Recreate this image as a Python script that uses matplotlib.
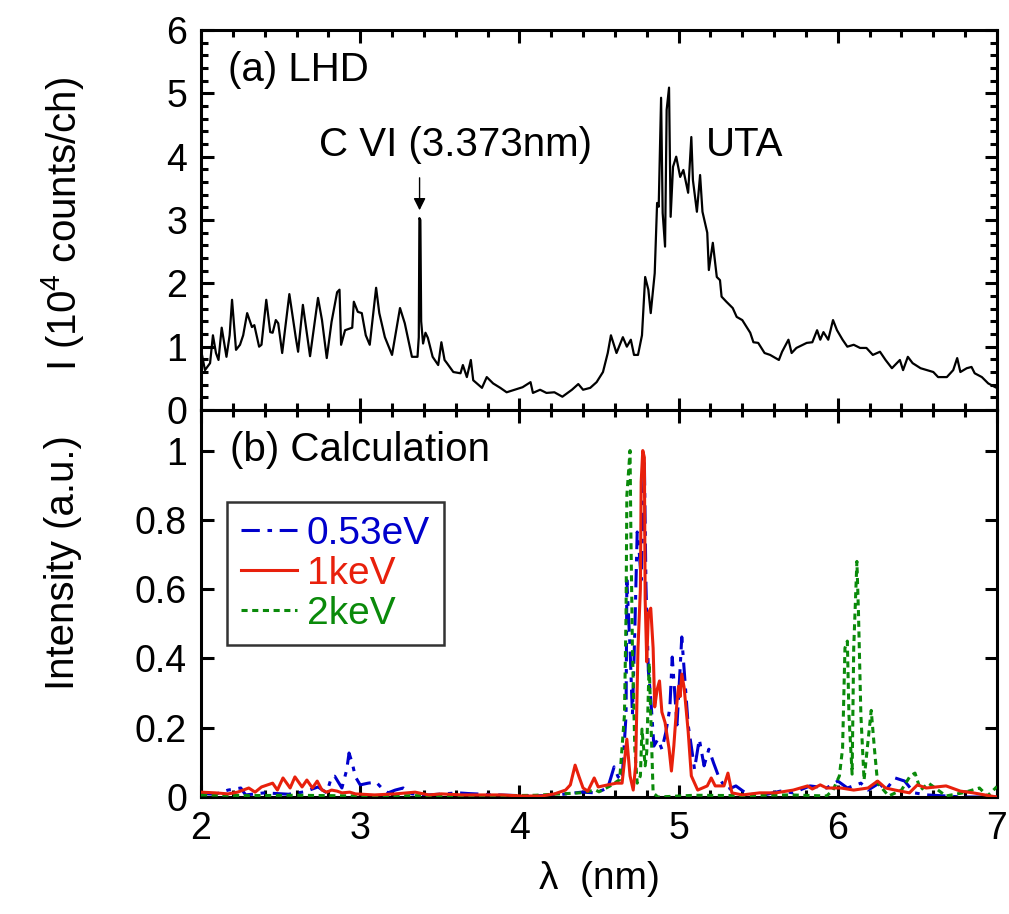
import matplotlib
matplotlib.use('Agg')
import matplotlib.pyplot as plt
from matplotlib.lines import Line2D
from matplotlib.ticker import MultipleLocator, FixedLocator, FixedFormatter

plt.rcParams['font.family'] = ['Liberation Sans', 'DejaVu Sans']
plt.rcParams['mathtext.default'] = 'regular'

# (a) LHD measured spectrum (10^4 counts/ch)
lhd_wl = [2.00, 2.025, 2.057, 2.075, 2.094, 2.11, 2.13, 2.16, 2.18, 2.195, 2.22, 2.245,
          2.265, 2.29, 2.32, 2.335, 2.365, 2.38, 2.41, 2.435, 2.45, 2.47, 2.485, 2.51,
          2.555, 2.595, 2.61, 2.64, 2.685, 2.735, 2.76, 2.79, 2.82, 2.855, 2.87, 2.88,
          2.905, 2.95, 2.96, 2.985, 3.01, 3.035, 3.06, 3.10, 3.12, 3.155, 3.20, 3.25,
          3.28, 3.325, 3.36, 3.368, 3.372, 3.378, 3.383, 3.395, 3.41, 3.425, 3.455, 3.49,
          3.51, 3.53, 3.545, 3.585, 3.63, 3.645, 3.67, 3.695, 3.71, 3.765, 3.795, 3.835,
          3.88, 3.92, 3.97, 4.02, 4.07, 4.085, 4.13, 4.17, 4.22, 4.27, 4.33, 4.37,
          4.40, 4.445, 4.485, 4.525, 4.555, 4.575, 4.61, 4.65, 4.675, 4.70, 4.72, 4.745,
          4.77, 4.79, 4.81, 4.825, 4.85, 4.865, 4.875, 4.89, 4.90, 4.915, 4.925, 4.94,
          4.95, 4.965, 4.985, 5.01, 5.03, 5.06, 5.08, 5.09, 5.115, 5.135, 5.15, 5.18,
          5.19, 5.215, 5.24, 5.26, 5.27, 5.30, 5.34, 5.365, 5.40, 5.45, 5.47, 5.50,
          5.54, 5.575, 5.63, 5.65, 5.69, 5.71, 5.74, 5.805, 5.84, 5.87, 5.89, 5.91,
          5.94, 5.97, 5.995, 6.03, 6.06, 6.10, 6.14, 6.18, 6.22, 6.265, 6.30, 6.34,
          6.39, 6.41, 6.44, 6.47, 6.52, 6.56, 6.60, 6.63, 6.685, 6.725, 6.75, 6.77,
          6.81, 6.84, 6.86, 6.905, 6.945, 6.99]
lhd_counts = [0.95, 0.63, 0.74, 1.18, 0.90, 0.79, 1.30, 0.84, 1.18, 1.74, 0.95, 1.03,
              1.18, 1.53, 1.31, 1.34, 1.00, 1.03, 1.74, 1.23, 1.22, 1.42, 1.37, 0.90,
              1.83, 1.15, 0.92, 1.66, 0.85, 1.77, 1.42, 0.82, 1.39, 1.86, 1.90, 1.03,
              1.26, 1.30, 1.71, 1.55, 1.53, 1.18, 1.03, 1.93, 1.53, 1.15, 0.87, 1.61,
              1.37, 0.84, 0.84, 1.15, 3.03, 3.00, 1.40, 1.05, 1.22, 1.14, 0.84, 0.71,
              1.07, 0.79, 0.74, 0.60, 0.58, 0.71, 0.52, 0.79, 0.47, 0.35, 0.52, 0.42,
              0.35, 0.28, 0.32, 0.36, 0.44, 0.27, 0.32, 0.27, 0.28, 0.21, 0.32, 0.41,
              0.32, 0.35, 0.44, 0.60, 0.90, 1.18, 0.90, 1.15, 1.00, 1.11, 0.87, 0.87,
              1.18, 2.10, 1.90, 1.53, 2.16, 3.27, 3.21, 4.93, 3.11, 2.58, 4.74, 5.09,
              3.05, 3.84, 4.00, 3.68, 3.79, 3.43, 4.31, 3.63, 3.13, 3.71, 3.13, 2.80,
              2.21, 2.64, 2.10, 2.05, 1.79, 1.71, 1.61, 1.47, 1.42, 1.22, 1.07, 1.06,
              0.90, 0.87, 0.79, 0.92, 1.11, 0.90, 0.98, 1.06, 1.07, 1.26, 1.11, 1.23,
              1.11, 1.42, 1.26, 1.11, 1.00, 1.03, 0.98, 0.98, 0.87, 0.92, 0.79, 0.66,
              0.79, 0.63, 0.84, 0.74, 0.66, 0.63, 0.60, 0.52, 0.52, 0.63, 0.82, 0.60,
              0.66, 0.68, 0.58, 0.52, 0.42, 0.36]

# (b) calculation, Te = 0.53 eV
calc053_wl = [2.00, 2.09, 2.17, 2.25, 2.28, 2.40, 2.55, 2.65, 2.735, 2.79, 2.82, 2.84,
              2.885, 2.915, 2.93, 2.95, 2.97, 3.00, 3.05, 3.10, 3.135, 3.175, 3.22, 3.27,
              3.325, 3.43, 3.615, 3.68, 3.86, 4.00, 4.20, 4.39, 4.48, 4.555, 4.595, 4.62,
              4.645, 4.67, 4.675, 4.695, 4.71, 4.725, 4.74, 4.75, 4.765, 4.785, 4.795, 4.81,
              4.825, 4.845, 4.87, 4.895, 4.92, 4.945, 4.96, 4.975, 4.99, 5.01, 5.02, 5.04,
              5.06, 5.085, 5.10, 5.13, 5.16, 5.19, 5.22, 5.25, 5.30, 5.36, 5.42, 5.51,
              5.64, 5.72, 5.825, 5.93, 6.00, 6.06, 6.145, 6.19, 6.26, 6.30, 6.36, 6.42,
              6.48, 6.56, 6.68, 6.78, 7.00]
calc053_int = [0.010, 0.008, 0.020, 0.026, 0.006, 0.012, 0.008, 0.015, 0.029, 0.012, 0.058, 0.060,
               0.026, 0.078, 0.127, 0.098, 0.058, 0.035, 0.040, 0.043, 0.026, 0.012, 0.020, 0.026,
               0.009, 0.006, 0.012, 0.010, 0.006, 0.004, 0.004, 0.014, 0.012, 0.026, 0.087, 0.058,
               0.049, 0.237, 0.626, 0.430, 0.237, 0.480, 0.765, 0.725, 0.626, 0.970, 0.610, 0.365,
               0.285, 0.147, 0.167, 0.138, 0.187, 0.257, 0.404, 0.306, 0.208, 0.375, 0.462, 0.335,
               0.208, 0.130, 0.080, 0.167, 0.090, 0.138, 0.098, 0.061, 0.020, 0.032, 0.012, 0.003,
               0.017, 0.012, 0.032, 0.026, 0.046, 0.026, 0.040, 0.020, 0.040, 0.020, 0.055, 0.046,
               0.012, 0.006, 0.003, 0.000, 0.000]

# (b) calculation, Te = 1 keV
calc1k_wl = [2.00, 2.09, 2.17, 2.23, 2.30, 2.34, 2.38, 2.45, 2.48, 2.515, 2.56, 2.59,
             2.635, 2.665, 2.70, 2.73, 2.76, 2.79, 2.82, 2.855, 2.885, 2.935, 2.97, 3.09,
             3.22, 3.345, 3.43, 3.51, 3.64, 3.76, 3.89, 4.01, 4.14, 4.22, 4.29, 4.32,
             4.35, 4.375, 4.40, 4.43, 4.47, 4.495, 4.555, 4.61, 4.645, 4.675, 4.695, 4.715,
             4.73, 4.745, 4.76, 4.765, 4.775, 4.785, 4.79, 4.80, 4.81, 4.825, 4.84, 4.85,
             4.865, 4.88, 4.895, 4.915, 4.94, 4.955, 4.97, 4.99, 5.00, 5.01, 5.02, 5.035,
             5.06, 5.08, 5.12, 5.18, 5.205, 5.23, 5.285, 5.31, 5.335, 5.40, 5.51, 5.61,
             5.72, 5.81, 5.84, 5.89, 5.93, 6.02, 6.10, 6.19, 6.25, 6.30, 6.36, 6.45,
             6.50, 6.555, 6.68, 6.77, 6.85, 6.96, 7.00]
calc1k_int = [0.014, 0.012, 0.009, 0.014, 0.026, 0.014, 0.029, 0.040, 0.020, 0.055, 0.026, 0.058,
              0.029, 0.049, 0.026, 0.046, 0.020, 0.014, 0.020, 0.017, 0.012, 0.014, 0.009, 0.006,
              0.009, 0.014, 0.006, 0.009, 0.006, 0.006, 0.006, 0.003, 0.003, 0.009, 0.020, 0.035,
              0.092, 0.058, 0.026, 0.017, 0.055, 0.029, 0.035, 0.040, 0.040, 0.167, 0.061, 0.020,
              0.089, 0.430, 0.600, 0.910, 1.000, 0.980, 0.570, 0.390, 0.530, 0.545, 0.430, 0.260,
              0.310, 0.335, 0.245, 0.215, 0.140, 0.075, 0.147, 0.275, 0.320, 0.290, 0.355, 0.315,
              0.190, 0.061, 0.020, 0.032, 0.055, 0.032, 0.032, 0.069, 0.012, 0.006, 0.012, 0.012,
              0.020, 0.032, 0.023, 0.035, 0.026, 0.026, 0.020, 0.026, 0.046, 0.026, 0.020, 0.012,
              0.035, 0.026, 0.032, 0.017, 0.012, 0.003, 0.000]

# (b) calculation, Te = 2 keV
calc2k_wl = [2.00, 2.30, 2.60, 3.00, 3.40, 3.80, 4.10, 4.38, 4.48, 4.50, 4.57, 4.63,
             4.66, 4.67, 4.675, 4.695, 4.70, 4.71, 4.725, 4.74, 4.76, 4.77, 4.79, 4.80,
             4.815, 4.825, 4.84, 4.87, 5.10, 5.40, 5.70, 5.93, 5.97, 6.01, 6.03, 6.045,
             6.06, 6.07, 6.09, 6.10, 6.12, 6.13, 6.145, 6.165, 6.185, 6.21, 6.23, 6.25,
             6.32, 6.40, 6.455, 6.485, 6.52, 6.57, 6.68, 6.785, 6.89, 6.94, 7.00]
calc2k_int = [0.006, 0.004, 0.005, 0.003, 0.004, 0.003, 0.005, 0.012, 0.020, 0.015, 0.032, 0.050,
              0.237, 0.530, 0.870, 1.000, 0.775, 0.430, 0.140, 0.040, 0.061, 0.196, 0.090, 0.130,
              0.387, 0.237, 0.012, 0.000, 0.005, 0.004, 0.006, 0.003, 0.020, 0.061, 0.140, 0.430,
              0.450, 0.237, 0.066, 0.430, 0.680, 0.530, 0.237, 0.049, 0.140, 0.250, 0.140, 0.040,
              0.003, 0.020, 0.061, 0.069, 0.020, 0.040, 0.003, 0.012, 0.026, 0.003, 0.030]

legend_labels = ['0.53eV', '1keV', '2keV']
series_colors = ['#0000cc', '#e8200c', '#0a8a0a']
dashdot = (0, (6, 2.5, 1.5, 2.5))
dotted = (0, (2, 1.5))

fig = plt.figure(figsize=(10.09, 9.14), dpi=100)
ax1 = fig.add_axes([0.1992, 0.5514, 0.7889, 0.4158])
ax2 = fig.add_axes([0.1992, 0.128, 0.7889, 0.4234])

tick_fs = 27
text_fs = 29

def style_axis(ax):
    for sp in ax.spines.values():
        sp.set_linewidth(2.2)
    ax.tick_params(which='both', direction='in', top=True, right=True,
                   width=2.2, labelsize=tick_fs, pad=10)
    ax.tick_params(which='major', length=9)
    ax.tick_params(which='minor', length=5)
    ax.set_xlim(2, 7)
    ax.xaxis.set_major_locator(MultipleLocator(1))
    ax.xaxis.set_minor_locator(MultipleLocator(0.2))

# top panel: measured LHD spectrum
style_axis(ax1)
ax1.plot(lhd_wl, lhd_counts, color='black', lw=1.6)
ax1.set_ylim(0, 6)
ax1.yaxis.set_major_locator(MultipleLocator(1))
ax1.yaxis.set_minor_locator(MultipleLocator(0.2))
ax1.tick_params(labelbottom=False)
ax1.text(0.034, 0.895, '(a) LHD', transform=ax1.transAxes, fontsize=text_fs, va='center')
ax1.annotate('', xy=(3.373, 3.11), xytext=(3.373, 3.71),
             arrowprops=dict(arrowstyle='-|>', color='black', lw=1.0,
                             mutation_scale=18))
ax1.text(3.60, 4.19, 'C VI (3.373nm)', fontsize=text_fs, ha='center', va='center')
ax1.text(5.17, 4.19, 'UTA', fontsize=text_fs, ha='left', va='center')

# bottom panel: calculated spectra
style_axis(ax2)
ax2.plot(calc053_wl, calc053_int, color=series_colors[0], lw=2.2,
         linestyle=dashdot, zorder=2)
ax2.plot(calc2k_wl, calc2k_int, color=series_colors[2], lw=2.2,
         linestyle=dotted, zorder=3)
ax2.plot(calc1k_wl, calc1k_int, color=series_colors[1], lw=2.2, zorder=4)
ax2.set_ylim(0, 1.117)
ax2.yaxis.set_major_locator(FixedLocator([0, 0.2, 0.4, 0.6, 0.8, 1.0]))
ax2.yaxis.set_major_formatter(FixedFormatter(['0', '0.2', '0.4', '0.6', '0.8', '1']))
ax2.yaxis.set_minor_locator(FixedLocator([]))
ax2.text(0.036, 0.897, '(b) Calculation', transform=ax2.transAxes, fontsize=text_fs, va='center')

handles = [Line2D([], [], color=series_colors[0], lw=2.2, linestyle=dashdot),
           Line2D([], [], color=series_colors[1], lw=2.2),
           Line2D([], [], color=series_colors[2], lw=2.2, linestyle=dotted)]
leg = ax2.legend(handles, legend_labels, loc='upper left', bbox_to_anchor=(0.033, 0.762),
                 fontsize=28, frameon=True, fancybox=False, handlelength=1.45,
                 handletextpad=0.25, labelspacing=0.1, borderpad=0.35, borderaxespad=0)
leg.get_frame().set_edgecolor('black')
leg.get_frame().set_linewidth(1.8)
for txt, c in zip(leg.get_texts(), series_colors):
    txt.set_color(c)

ax2.set_xlabel('λ  (nm)', fontsize=28, labelpad=10)

fig.text(0.062, 0.755, 'I (10$^4$ counts/ch)', rotation=90, fontsize=29,
         ha='center', va='center')
fig.text(0.062, 0.385, 'Intensity (a.u.)', rotation=90, fontsize=29,
         ha='center', va='center')

fig.savefig('out.png', dpi=100)
